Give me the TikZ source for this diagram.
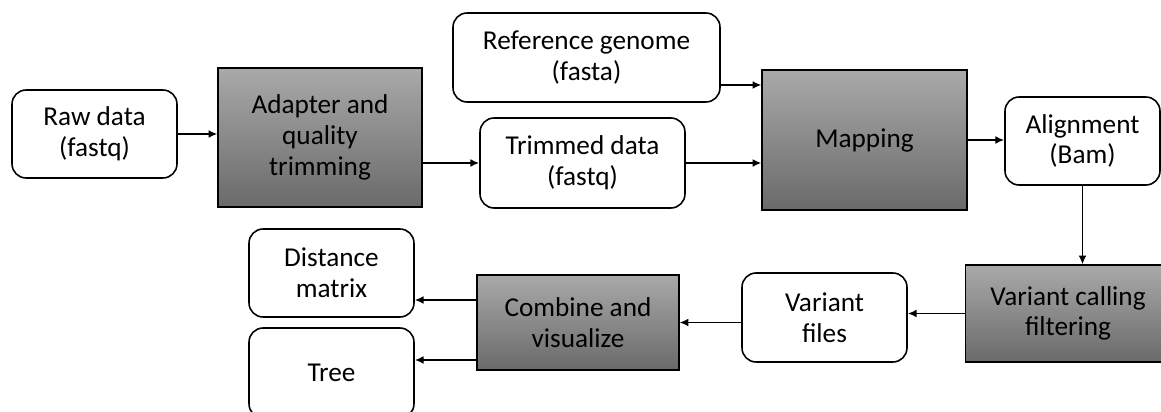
\documentclass[tikz,border=0pt]{standalone}
\usepackage{fontspec}
\setmainfont{Carlito}
\usetikzlibrary{arrows.meta}
\definecolor{procTop}{HTML}{A9A9A9}
\definecolor{procBot}{HTML}{6A6A6A}

\tikzset{
  databox/.style={draw=black,line width=0.9pt,rounded corners=8pt,fill=white,
    align=center,inner sep=2pt,font=\fontsize{15.5}{17.5}\selectfont},
  procbox/.style={draw=black,line width=0.7pt,top color=procTop,bottom color=procBot,
    align=center,inner sep=2pt,font=\fontsize{15.5}{17.5}\selectfont},
  flow/.style={-{Latex[length=5pt,width=4.5pt]},line width=1pt}
}

\begin{document}
\begin{tikzpicture}[x=0.02cm,y=-0.02cm]
  \useasboundingbox (0,0) rectangle (1161,412);
  % upper row
  \node[databox,minimum width=3.3cm,minimum height=1.76cm] (raw) at (94.5,134) {Raw data\\(fastq)};
  \node[procbox,minimum width=4.08cm,minimum height=2.78cm] (adapt) at (320,137.5) {Adapter and\\quality\\trimming};
  \node[databox,minimum width=5.34cm,minimum height=1.78cm] (ref) at (586.5,57.5) {Reference genome\\(fasta)};
  \node[databox,minimum width=4.1cm,minimum height=1.8cm] (trim) at (582.5,163) {Trimmed data\\(fastq)};
  \node[procbox,minimum width=4.1cm,minimum height=2.8cm] (map) at (864.5,140) {Mapping};
  \node[databox,minimum width=3.1cm,minimum height=1.76cm] (align) at (1082.5,141) {Alignment\\(Bam)};
  % lower row
  \node[procbox,minimum width=4.1cm,minimum height=1.94cm] (call) at (1068,313.5) {Variant calling\\filtering};
  \node[databox,minimum width=3.3cm,minimum height=1.78cm] (files) at (824.5,317.5) {Variant\\files};
  \node[procbox,minimum width=4.04cm,minimum height=1.9cm] (comb) at (578,322.5) {Combine and\\visualize};
  \node[databox,minimum width=3.3cm,minimum height=1.76cm] (dist) at (331.5,273) {Distance\\matrix};
  \node[databox,minimum width=3.3cm,minimum height=1.8cm] (tree) at (331.5,373) {Tree};

  % connectors
  \draw[flow] (raw.east) -- (raw.east -| adapt.west);
  \draw[flow] (adapt.east |- trim.west) -- (trim.west);
  \draw[flow] ([yshift=-0.55cm]ref.east) -- ([yshift=-0.55cm]ref.east -| map.west);
  \draw[flow] (trim.east) -- (trim.east -| map.west);
  \draw[flow] (map.east) -- (map.east -| align.west);
  \draw[flow] (align.south) -- (align.south |- call.north);
  \draw[flow] (call.west) -- (call.west -| files.east);
  \draw[flow] (files.west |- comb.east) -- (comb.east);
  \draw[flow] ([yshift=0.45cm]comb.west) -- ([yshift=0.45cm]comb.west -| dist.east);
  \draw[flow] ([yshift=-0.75cm]comb.west) -- ([yshift=-0.75cm]comb.west -| tree.east);
\end{tikzpicture}
\end{document}
